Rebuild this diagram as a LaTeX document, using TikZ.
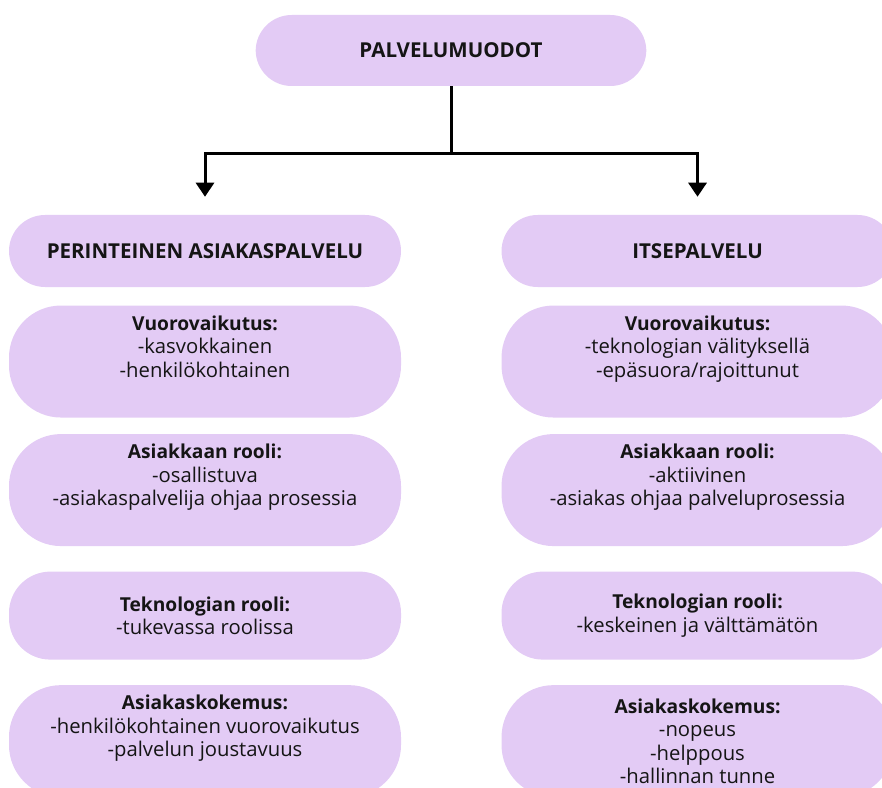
\documentclass[tikz,border=0pt]{standalone}
\usepackage{fontspec}
\setmainfont{Open Sans}
\usetikzlibrary{positioning,arrows.meta}
\definecolor{lilac}{HTML}{E3CBF5}
\definecolor{ink}{HTML}{151515}
\newcommand{\cardtitle}[1]{{\bfseries\fontsize{14.4}{17.6}\selectfont #1}}

\begin{document}
\begin{tikzpicture}[x=0.75pt,y=-0.75pt,
  pill/.style={fill=lilac, text=ink, rounded corners=27pt, minimum width=294pt, minimum height=54pt,
    align=center, font=\bfseries\fontsize{15.4}{17.5}\selectfont},
  card/.style={fill=lilac, text=ink, rounded corners=39pt, minimum width=294pt, minimum height=84pt,
    align=center, font=\fontsize{15.2}{17.6}\selectfont},
  lowcard/.style={card, rounded corners=31pt, minimum height=66pt},
  stem/.style={line width=2.25pt, draw=black},
  fork/.style={stem, -{Triangle[width=13.5pt,length=10.5pt]}}]
  \useasboundingbox (0,0) rectangle (882,788);
  \clip (0,0) rectangle (882,788);
  % root and the two service forms
  \node[pill, minimum width=293pt, minimum height=53.25pt] (root) at (451,50.5) {PALVELUMUODOT};
  \node[pill] (perinteinen) at (205,251) {PERINTEINEN ASIAKASPALVELU};
  \node[pill] (itse)[right=75pt of perinteinen] {ITSEPALVELU};
  % traditional customer service
  \node[card] (pvuoro)[below=13.5pt of perinteinen] {\cardtitle{Vuorovaikutus:}\\-kasvokkainen\\-henkilökohtainen\\\strut};
  \node[card] (prooli)[below=12pt of pvuoro] {\cardtitle{Asiakkaan rooli:}\\-osallistuva\\-asiakaspalvelija ohjaa prosessia\\\strut};
  \node[lowcard] (ptekno)[below=18.75pt of prooli] {\cardtitle{Teknologian rooli:}\\-tukevassa roolissa};
  \node[card] (pkokemus)[below=18.75pt of ptekno] {\cardtitle{Asiakaskokemus:}\\-henkilökohtainen vuorovaikutus\\-palvelun joustavuus\\\strut};
  % self-service
  \node[card] (ivuoro)[below=13.5pt of itse] {\cardtitle{Vuorovaikutus:}\\-teknologian välityksellä\\-epäsuora/rajoittunut\\\strut};
  \node[card] (irooli)[below=12pt of ivuoro] {\cardtitle{Asiakkaan rooli:}\\-aktiivinen\\-asiakas ohjaa palveluprosessia\\\strut};
  \node[lowcard] (itekno)[below=18.75pt of irooli] {\cardtitle{Teknologian rooli:}\\-keskeinen ja välttämätön};
  \node[card] (ikokemus)[below=18.75pt of itekno] {\cardtitle{Asiakaskokemus:}\\-nopeus\\-helppous\\-hallinnan tunne};
  % connectors
  \coordinate (split) at ([yshift=-50.25pt]root.south);
  \draw[stem] (root.south) -- (split);
  \draw[fork] (split) -| ([yshift=13.5pt]perinteinen.north);
  \draw[fork] (split) -| ([yshift=13.5pt]itse.north);
\end{tikzpicture}
\end{document}
